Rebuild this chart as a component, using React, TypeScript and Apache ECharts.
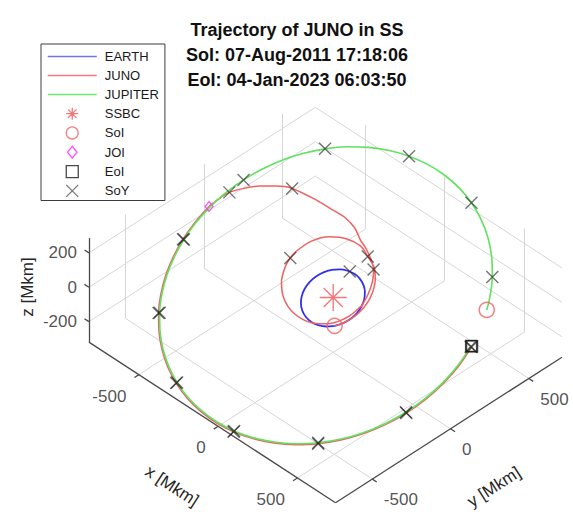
import React, { useEffect, useRef } from 'react';
import * as echarts from 'echarts';

const FONT = '"Liberation Sans", Arial, Helvetica, sans-serif';

// ---------------- data (heliocentric ecliptic longitude [deg], distance [Mkm]) ----------------
// Jupiter, sampled every quarter year from SoI (07-Aug-2011) to EoI (04-Jan-2023)
const JUPITER_T = [2011.6, 2011.75, 2012.0, 2012.25, 2012.5, 2012.75, 2013.0, 2013.25, 2013.5, 2013.75,
  2014.0, 2014.25, 2014.5, 2014.75, 2015.0, 2015.25, 2015.5, 2015.75, 2016.0, 2016.25, 2016.5, 2016.75,
  2017.0, 2017.25, 2017.5, 2017.75, 2018.0, 2018.25, 2018.5, 2018.75, 2019.0, 2019.25, 2019.5, 2019.75,
  2020.0, 2020.25, 2020.5, 2020.75, 2021.0, 2021.25, 2021.5, 2021.75, 2022.0, 2022.25, 2022.5, 2022.75,
  2023.0, 2023.01];
const JUPITER_LON = [27.7, 32.7, 41.0, 49.2, 57.4, 65.6, 73.6, 81.6, 89.5, 97.3,
  105.0, 112.6, 120.1, 127.5, 134.9, 142.1, 149.2, 156.3, 163.3, 170.3, 177.2, 184.0,
  190.9, 197.7, 204.6, 211.5, 218.4, 225.3, 232.3, 239.4, 246.5, 253.7, 261.0, 268.4,
  275.9, 283.5, 291.2, 299.0, 306.9, 314.9, 322.9, 331.0, 339.2, 347.5, 355.7, 4.0,
  12.4, 12.7];
const JUPITER_R = [741.3, 742.1, 744.0, 746.5, 749.7, 753.3, 757.5, 762.0, 766.7, 771.7,
  776.8, 781.8, 786.8, 791.6, 796.1, 800.3, 804.2, 807.5, 810.4, 812.8, 814.6, 815.8,
  816.4, 816.4, 815.9, 814.8, 813.0, 810.7, 807.9, 804.6, 800.8, 796.7, 792.2, 787.4,
  782.5, 777.4, 772.3, 767.4, 762.5, 758.0, 753.8, 750.1, 746.9, 744.3, 742.3, 741.0,
  740.4, 740.4];

// Earth, one revolution starting at SoI
const EARTH_LON = [314.7, 330, 345, 0, 15, 30, 45, 60, 75, 90, 105, 120, 135, 150, 165, 180,
  195, 210, 225, 240, 255, 270, 285, 300, 314.7];
const EARTH_R = [151.7, 151.3, 150.77, 150.16, 149.51, 148.87, 148.27, 147.77, 147.39, 147.16, 147.1,
  147.21, 147.48, 147.9, 148.43, 149.04, 149.69, 150.34, 150.93, 151.43, 151.81, 152.04, 152.1, 151.99, 151.7];
const EARTH_SOY_LON = [100.5];
const EARTH_SOY_R = [147.1];

// Juno cruise: launch loop, Earth fly-by (Oct 2013), transfer to Jupiter
const JUNO_CRUISE_LON = [314.7, 330, 345, 0, 15, 30, 45, 60, 75, 92, 105, 120, 135, 150,
  165, 171.7, 180, 195, 210, 225, 240, 255, 270, 285, 300, 315, 330, 345, 0, 10, 16,
  25, 35, 45, 55, 65, 74, 82, 90, 100, 108, 116, 124, 132, 140, 149.6, 155, 160, 165, 169.4, 173];
const JUNO_CRUISE_R = [151.7, 150.2, 151.4, 155.7, 163.1, 173.8, 188.2, 206.6, 229, 250, 282, 307, 325.4, 332,
  323.6, 315, 301.4, 271.7, 240.8, 212.6, 188.9, 169.9, 155.4, 144.8, 137.6, 133.4, 132, 133.4, 137.6, 142, 149,
  152, 160, 170, 185, 203, 222, 238, 255, 283, 311, 365, 415, 462, 530, 640, 690, 733, 772, 802, 812];
// Juno at the start of 2012 .. 2016
const JUNO_SOY_LON = [92, 171.7, 74, 149.6, 169.4];
const JUNO_SOY_R = [250, 315, 222, 640, 802];
const JOI_T = 2016.5;
const JUNO_APOJOVE_MKM = 5; // Juno's offset from Jupiter while in orbit

// axes
const X_LIM = [-815, 740];
const Y_LIM = [-735, 712];
const Z_LIM = [-319, 286];
const X_TICKS = [-500, 0, 500];
const Y_TICKS = [-500, 0, 500];
const Z_TICKS = [-200, 0, 200];

const TITLE = ['Trajectory of JUNO in SS', 'SoI: 07-Aug-2011 17:18:06', 'EoI: 04-Jan-2023 06:03:50'];

// ---------------- 3-D view (equatorial frame, orthographic) ----------------
const OBLIQUITY_DEG = 23.44;
const VIEW_U = [0.7118, 0.7024, 0];
const VIEW_V = [-0.4636, 0.4515, 0.772];
const U_EXTENT = [-1495.5, 1076.3];
const V_EXTENT = [-962.7, 1335.3];
const TICK_LEN = 28;
const DEG = Math.PI / 180;

type P3 = [number, number, number];

function eclToEq(lonDeg: number, r: number): P3 {
  const L = lonDeg * DEG;
  const e = OBLIQUITY_DEG * DEG;
  const xe = r * Math.cos(L);
  const ye = r * Math.sin(L);
  return [xe, ye * Math.cos(e), ye * Math.sin(e)];
}
function proj(p: P3): [number, number] {
  return [
    VIEW_U[0] * p[0] + VIEW_U[1] * p[1] + VIEW_U[2] * p[2],
    VIEW_V[0] * p[0] + VIEW_V[1] * p[1] + VIEW_V[2] * p[2],
  ];
}
const pt = (lon: number, r: number) => proj(eclToEq(lon, r));
const path = (lons: number[], rs: number[]) => lons.map((l, i) => pt(l, rs[i]));
const isNewYear = (t: number) => Math.abs(t - Math.round(t)) < 1e-6;

const ASTERISK = 'path://M0,-10L0,10M-10,0L10,0M-7.07,-7.07L7.07,7.07M-7.07,7.07L7.07,-7.07M-0.8,-0.8L0.8,-0.8L0.8,0.8L-0.8,0.8Z';
const XMARK = 'path://M-5,-5L5,5M-5,5L5,-5';
const DIAMOND = 'path://M0,-5L4,0L0,5L-4,0Z';
const SQUARE = 'path://M-5,-5L5,-5L5,5L-5,5Z';

const EARTH_COLOR = '#2f2fee';
const JUNO_COLOR = '#f06262';
const JUPITER_COLOR = '#5fe35f';

function buildOption() {
  const [X0, X1] = X_LIM;
  const [Y0, Y1] = Y_LIM;
  const [Z0, Z1] = Z_LIM;
  const seg = (a: P3, b: P3) => ({ coords: [proj(a), proj(b)] });

  const gridSegs: any[] = [];
  X_TICKS.forEach((x) => {
    gridSegs.push(seg([x, Y0, Z0], [x, Y1, Z0]), seg([x, Y1, Z0], [x, Y1, Z1]));
  });
  Y_TICKS.forEach((y) => {
    gridSegs.push(seg([X0, y, Z0], [X1, y, Z0]), seg([X0, y, Z0], [X0, y, Z1]));
  });
  Z_TICKS.forEach((z) => {
    gridSegs.push(seg([X0, Y0, z], [X0, Y1, z]), seg([X0, Y1, z], [X1, Y1, z]));
  });

  const axisSegs: any[] = [
    seg([X0, Y0, Z0], [X1, Y0, Z0]),
    seg([X1, Y0, Z0], [X1, Y1, Z0]),
    seg([X0, Y0, Z0], [X0, Y0, Z1]),
  ];
  X_TICKS.forEach((x) => axisSegs.push(seg([x, Y0, Z0], [x, Y0 - TICK_LEN, Z0])));
  Y_TICKS.forEach((y) => axisSegs.push(seg([X1, y, Z0], [X1 + TICK_LEN, y, Z0])));
  Z_TICKS.forEach((z) => axisSegs.push(seg([X0, Y0, z], [X0 - TICK_LEN, Y0, z])));

  const tickLabelSeries = (items: { name: string; value: [number, number] }[], position: number[], align: string) => ({
    type: 'scatter',
    silent: true,
    symbol: 'circle',
    symbolSize: 1,
    itemStyle: { color: 'rgba(0,0,0,0)' },
    data: items,
    label: {
      show: true,
      formatter: '{b}',
      position,
      align,
      verticalAlign: 'middle',
      fontSize: 17,
      fontFamily: FONT,
      color: '#262626',
    },
    z: 3,
  });

  // Juno = cruise + in orbit around Jupiter after JOI
  const afterJOI = JUPITER_T.map((t, i) => i).filter((i) => JUPITER_T[i] >= JOI_T);
  const junoLon = [...JUNO_CRUISE_LON, ...afterJOI.map((i) => JUPITER_LON[i])];
  const junoR = [...JUNO_CRUISE_R, ...afterJOI.map((i) => JUPITER_R[i] + JUNO_APOJOVE_MKM)];
  const junoPath = path(junoLon, junoR);
  const jupiterPath = path(JUPITER_LON, JUPITER_R);
  const earthPath = path(EARTH_LON, EARTH_R);

  const soy: [number, number][] = [
    ...path(EARTH_SOY_LON, EARTH_SOY_R),
    ...path(JUNO_SOY_LON, JUNO_SOY_R),
    ...afterJOI.filter((i) => isNewYear(JUPITER_T[i])).map((i) => pt(JUPITER_LON[i], JUPITER_R[i] + JUNO_APOJOVE_MKM)),
    ...JUPITER_T.map((t, i) => i).filter((i) => isNewYear(JUPITER_T[i])).map((i) => pt(JUPITER_LON[i], JUPITER_R[i])),
  ];
  const joiIdx = JUPITER_T.indexOf(JOI_T);
  const last = JUPITER_T.length - 1;

  const hollow = (c: string, w: number) => ({ color: 'rgba(0,0,0,0)', borderColor: c, borderWidth: w });
  const noSymbol = { color: 'rgba(0,0,0,0)', borderColor: 'rgba(0,0,0,0)', borderWidth: 0 };

  return {
    animation: false,
    backgroundColor: '#ffffff',
    title: {
      text: TITLE.join('\n'),
      left: 297,
      top: 17,
      padding: 0,
      textAlign: 'center',
      textStyle: { fontSize: 18, fontWeight: 'bold', lineHeight: 25, color: '#111', fontFamily: FONT },
    },
    legend: {
      orient: 'vertical',
      left: 41,
      top: 44,
      itemWidth: 49,
      itemHeight: 12,
      itemGap: 6,
      padding: [6, 6, 3, 6],
      backgroundColor: '#fff',
      borderColor: '#3c3c3c',
      borderWidth: 1,
      selectedMode: false,
      textStyle: { fontSize: 13, fontFamily: FONT, color: '#1a1a1a', padding: [0, 0, 0, 3] },
      itemStyle: { borderWidth: 1.3 },
      data: [
        { name: 'EARTH', lineStyle: { color: '#7272ee', width: 1.5 }, itemStyle: noSymbol },
        { name: 'JUNO', lineStyle: { color: '#f27a7a', width: 1.5 }, itemStyle: noSymbol },
        { name: 'JUPITER', lineStyle: { color: '#6ee86e', width: 1.5 }, itemStyle: noSymbol },
        'SSBC', 'SoI', 'JOI', 'EoI', 'SoY',
      ],
    },
    grid: { left: 0, right: 0, top: 0, bottom: 0, containLabel: false },
    xAxis: { type: 'value', min: U_EXTENT[0], max: U_EXTENT[1], show: false },
    yAxis: { type: 'value', min: V_EXTENT[0], max: V_EXTENT[1], show: false },
    graphic: [
      { type: 'text', x: 172, y: 486, rotation: -33.1 * DEG, style: { text: 'x [Mkm]', fill: '#262626', fontSize: 17, fontFamily: FONT, align: 'center', verticalAlign: 'middle' } },
      { type: 'text', x: 494, y: 487, rotation: 32.7 * DEG, style: { text: 'y [Mkm]', fill: '#262626', fontSize: 17, fontFamily: FONT, align: 'center', verticalAlign: 'middle' } },
      { type: 'text', x: 27, y: 287, rotation: 90 * DEG, style: { text: 'z [Mkm]', fill: '#262626', fontSize: 17, fontFamily: FONT, align: 'center', verticalAlign: 'middle' } },
    ],
    series: [
      {
        type: 'lines', coordinateSystem: 'cartesian2d', silent: true, z: 1,
        lineStyle: { color: '#d6d6d6', width: 1, opacity: 1 }, data: gridSegs,
      },
      {
        type: 'lines', coordinateSystem: 'cartesian2d', silent: true, z: 2,
        lineStyle: { color: '#4a4a4a', width: 1.3, opacity: 1 }, data: axisSegs,
      },
      tickLabelSeries(X_TICKS.map((x) => ({ name: String(x), value: proj([x, Y0, Z0]) })), [-12, 22], 'right'),
      tickLabelSeries(Y_TICKS.map((y) => ({ name: String(y), value: proj([X1, y, Z0]) })), [12, 21], 'left'),
      tickLabelSeries(Z_TICKS.map((z) => ({ name: String(z), value: proj([X0, Y0, z]) })), [-11.5, 0.5], 'right'),
      {
        name: 'EARTH', type: 'line', data: earthPath, symbol: 'none', showSymbol: false, clip: false, z: 4, smooth: 0.3,
        lineStyle: { color: EARTH_COLOR, width: 1.8 }, itemStyle: { color: EARTH_COLOR },
      },
      {
        name: 'JUNO', type: 'line', data: junoPath, symbol: 'none', showSymbol: false, clip: false, z: 4, smooth: 0.3,
        lineStyle: { color: JUNO_COLOR, width: 1.5 }, itemStyle: { color: JUNO_COLOR },
      },
      {
        name: 'JUPITER', type: 'line', data: jupiterPath, symbol: 'none', showSymbol: false, clip: false, z: 4, smooth: 0.3,
        lineStyle: { color: JUPITER_COLOR, width: 1.6 }, itemStyle: { color: JUPITER_COLOR },
      },
      {
        name: 'SSBC', type: 'scatter', symbol: ASTERISK, symbolSize: 27, z: 5,
        itemStyle: hollow('#f25454', 1.3), data: [proj([0, 0, 0])],
      },
      {
        name: 'SoI', type: 'scatter', symbol: 'circle', symbolSize: 15, z: 5,
        itemStyle: hollow('#f06060', 1.5), data: [junoPath[0], jupiterPath[0]],
      },
      {
        name: 'JOI', type: 'scatter', symbol: DIAMOND, symbolSize: [8, 10], z: 5,
        itemStyle: hollow('#ff2bff', 1.3), data: [pt(JUPITER_LON[joiIdx], JUPITER_R[joiIdx] + JUNO_APOJOVE_MKM)],
      },
      {
        name: 'EoI', type: 'scatter', symbol: SQUARE, symbolSize: 11, z: 5,
        itemStyle: hollow('#1a1a1a', 1.4), data: [junoPath[junoPath.length - 1], jupiterPath[last]],
      },
      {
        name: 'SoY', type: 'scatter', symbol: XMARK, symbolSize: 12, z: 6,
        itemStyle: hollow('rgba(25,25,25,0.75)', 1.4), data: soy,
      },
    ],
  };
}

export default function App() {
  const ref = useRef<HTMLDivElement>(null);
  useEffect(() => {
    if (!ref.current) return;
    const chart = echarts.init(ref.current, undefined, { renderer: 'svg' });
    chart.setOption(buildOption() as any);
    return () => chart.dispose();
  }, []);
  return (
    <div
      ref={ref}
      style={{ position: 'fixed', left: 0, top: 0, width: 573, height: 512, background: '#fff' }}
    />
  );
}
